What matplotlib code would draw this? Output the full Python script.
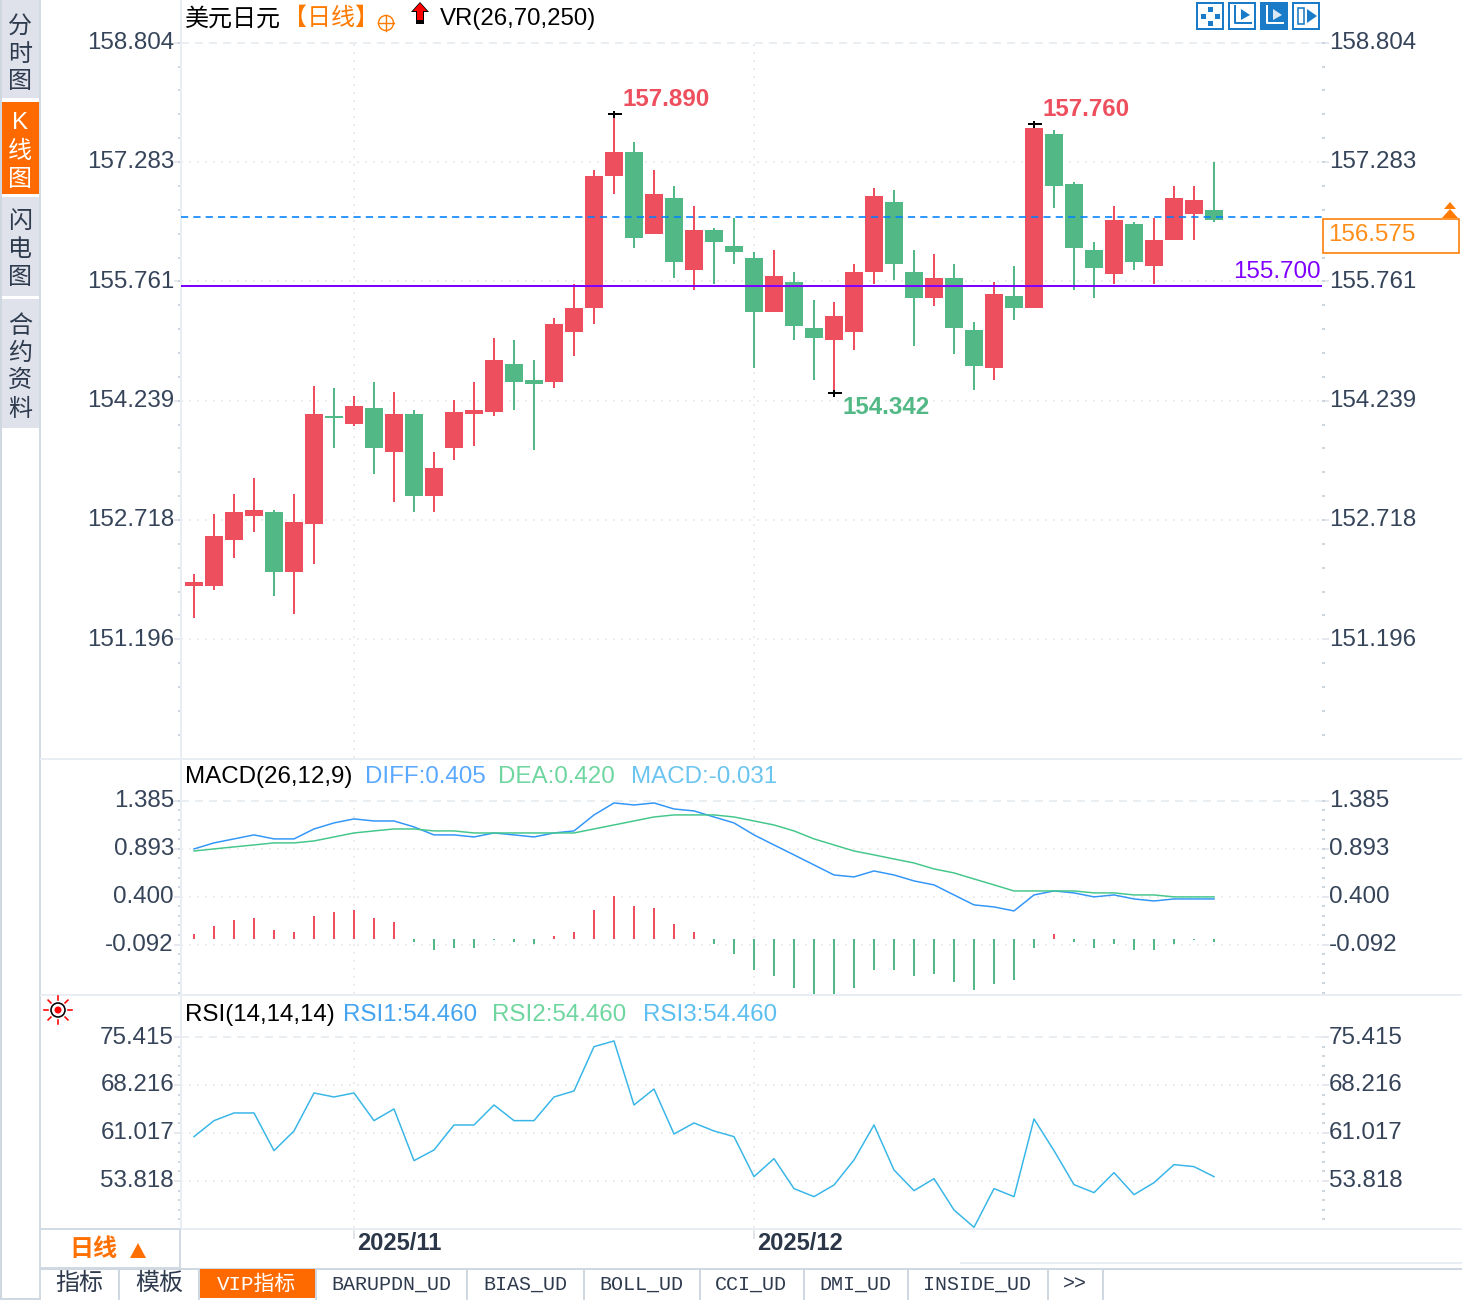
import numpy as np
import matplotlib
matplotlib.use('Agg')
import matplotlib.pyplot as plt
from matplotlib.patches import Rectangle, Circle, Polygon
from matplotlib.transforms import Affine2D

plt.rcParams['font.family'] = ['Liberation Sans', 'Noto Sans CJK SC', 'DejaVu Sans']

W, H = 1462, 1300
PX = 0.72  # one pixel in points at dpi 100

UP = '#ee4f5e'
DOWN = '#52b986'
TEXT = '#36445a'
ORANGE = '#ff7a00'
GRID = '#ececec'

opens = [151.877, 151.877, 152.461, 152.768, 152.821, 152.053, 152.667, 154.046, 153.940, 154.147,
         153.585, 154.068, 153.023, 153.633, 154.068, 154.094, 154.704, 154.502, 154.476, 155.112,
         155.420, 157.101, 157.408, 156.364, 156.820, 155.907, 156.414, 156.210, 156.057, 155.369,
         155.751, 155.165, 155.012, 155.114, 155.879, 156.771, 155.879, 155.547, 155.802, 155.139,
         154.655, 155.573, 155.420, 157.638, 157.000, 156.159, 155.853, 156.490, 155.955, 156.286,
         156.618, 156.669]
closes = [151.925, 152.514, 152.821, 152.843, 152.053, 152.694, 154.068, 154.020, 154.169, 153.633,
          154.068, 153.023, 153.379, 154.094, 154.120, 154.757, 154.476, 154.450, 155.218, 155.420,
          157.101, 157.408, 156.311, 156.873, 156.008, 156.412, 156.261, 156.134, 155.369, 155.828,
          155.190, 155.037, 155.318, 155.879, 156.847, 155.981, 155.547, 155.802, 155.165, 154.680,
          155.598, 155.420, 157.714, 156.975, 156.184, 155.929, 156.541, 156.006, 156.286, 156.822,
          156.796, 156.541]
highs = [152.031, 152.795, 153.049, 153.251, 152.843, 153.049, 154.428, 154.401, 154.296, 154.476,
         154.349, 154.120, 153.585, 154.248, 154.476, 155.038, 155.012, 154.757, 155.292, 155.727,
         157.180, 157.890, 157.536, 157.180, 156.974, 156.719, 156.439, 156.567, 156.134, 156.159,
         155.879, 155.522, 155.496, 155.981, 156.949, 156.924, 156.159, 156.108, 155.981, 155.241,
         155.751, 155.955, 157.760, 157.688, 157.026, 156.261, 156.720, 156.516, 156.567, 156.975,
         156.975, 157.281]
lows = [151.473, 151.825, 152.233, 152.566, 151.750, 151.517, 152.158, 153.633, 153.914, 153.304,
        152.948, 152.821, 152.821, 153.484, 153.660, 154.041, 154.120, 153.611, 154.401, 154.810,
        155.218, 156.873, 156.184, 156.364, 155.802, 155.652, 155.725, 155.981, 154.655, 155.369,
        155.012, 154.502, 154.342, 154.884, 155.725, 155.777, 154.935, 155.445, 154.833, 154.374,
        154.502, 155.267, 155.420, 156.694, 155.649, 155.547, 155.725, 155.904, 155.725, 156.286,
        156.286, 156.516]

diff = [0.890, 0.952, 0.993, 1.034, 0.993, 0.993, 1.095, 1.157, 1.198, 1.177, 1.177, 1.116, 1.034,
        1.034, 1.013, 1.054, 1.034, 1.013, 1.054, 1.075, 1.239, 1.362, 1.341, 1.362, 1.300, 1.280,
        1.218, 1.157, 1.034, 0.931, 0.829, 0.726, 0.623, 0.603, 0.664, 0.623, 0.562, 0.521, 0.418,
        0.316, 0.295, 0.254, 0.418, 0.459, 0.439, 0.398, 0.418, 0.377, 0.356, 0.377, 0.377, 0.377]
dea = [0.869, 0.890, 0.911, 0.931, 0.952, 0.952, 0.972, 1.013, 1.054, 1.075, 1.095, 1.095, 1.075,
       1.075, 1.054, 1.054, 1.054, 1.054, 1.054, 1.054, 1.095, 1.136, 1.177, 1.218, 1.239, 1.239,
       1.239, 1.218, 1.177, 1.136, 1.075, 0.993, 0.931, 0.869, 0.829, 0.787, 0.746, 0.685, 0.644,
       0.582, 0.521, 0.459, 0.459, 0.459, 0.459, 0.439, 0.439, 0.418, 0.418, 0.398, 0.398, 0.398]
macd_hist = [0.051, 0.133, 0.195, 0.215, 0.092, 0.072, 0.236, 0.277, 0.298, 0.215, 0.174, -0.031,
             -0.113, -0.092, -0.092, -0.010, -0.031, -0.051, 0.031, 0.072, 0.298, 0.441, 0.339,
             0.318, 0.154, 0.072, -0.051, -0.154, -0.318, -0.380, -0.503, -0.564, -0.564, -0.503,
             -0.318, -0.318, -0.380, -0.359, -0.441, -0.523, -0.462, -0.421, -0.092, 0.051, -0.031,
             -0.092, -0.051, -0.113, -0.113, -0.051, -0.010, -0.031]
MACD_BASE = -0.034

rsi = [60.47, 62.87, 64.02, 64.02, 58.37, 61.32, 67.02, 66.42, 67.02, 62.87, 64.62, 56.87, 58.47,
       62.22, 62.22, 65.22, 62.87, 62.87, 66.42, 67.32, 73.97, 74.82, 65.22, 67.62, 60.87, 62.52,
       61.32, 60.47, 54.47, 57.17, 52.67, 51.47, 53.22, 56.97, 62.22, 55.47, 52.37, 54.17, 49.47,
       46.87, 52.67, 51.47, 63.12, 58.37, 53.27, 52.07, 55.07, 51.77, 53.57, 56.27, 55.97, 54.47]

price_ticks = [158.804, 157.283, 155.761, 154.239, 152.718, 151.196]
macd_ticks = [1.385, 0.893, 0.400, -0.092]
rsi_ticks = [75.415, 68.216, 61.017, 53.818]
month_pos = [8, 28]
month_labels = ['2025/11', '2025/12']
last_price = 156.575
support_price = 155.700
marked = [(21, 157.890, UP), (42, 157.760, UP), (32, 154.342, DOWN)]

fig = plt.figure(figsize=(W / 100, H / 100), dpi=100)
fig.patch.set_facecolor('white')
xs = np.arange(len(opens))


def make_pane(top, bottom, ticks, fmt, anchor_px, px_per_unit):
    ax = fig.add_axes([181 / W, 1 - bottom / H, (1322 - 181) / W, (bottom - top) / H])
    ax.set_xlim((181 - 194) / 20, (1322 - 194) / 20)
    ax.set_ylim(ticks[0] - (bottom - anchor_px) / px_per_unit, ticks[0] + (anchor_px - top) / px_per_unit)
    for s in ['top', 'right', 'bottom']:
        ax.spines[s].set_visible(False)
    ax.spines['left'].set_color('#e8eef3')
    ax.spines['left'].set_linewidth(2 * PX)
    ax.set_xticks([])
    ax.set_yticks(ticks)
    ax.set_yticklabels([fmt % t for t in ticks])
    step = abs(ticks[0] - ticks[1]) / 5
    minor = np.arange(ticks[-1] - 10 * step, ticks[0] + step / 2, step)
    ax.set_yticks(minor[minor > ax.get_ylim()[0]], minor=True)
    ax.tick_params(axis='y', which='major', length=7 * PX, width=1.5 * PX, color='#dde3ea', pad=0,
                   labelsize=17.4, labelcolor=TEXT, left=True, right=True, labelleft=True, labelright=True)
    ax.tick_params(axis='y', which='minor', length=3 * PX, width=2 * PX, color='#cdd6df', left=True, right=True)
    for t in ax.yaxis.get_major_ticks():
        for lab in (t.label1, t.label2):
            lab.set_transform(lab.get_transform() + Affine2D().translate(0, 2))
    ax.grid(axis='y', which='major', color=GRID, linewidth=2 * PX, linestyle=(0, (1, 3)))
    ax.get_ygridlines()[0].set_linestyle((0, (4, 3)))
    ax.get_ygridlines()[0].set_color('#e8eef2')
    ax.vlines(month_pos, ax.get_ylim()[0], ticks[0], colors=GRID, linewidth=2 * PX, linestyle=(0, (1, 3)), zorder=1)
    ax.set_axisbelow(True)
    return ax


# main candles
ax1 = make_pane(0, 758, price_ticks, '%.3f', 42.5, 78.45)
ax1.axhline(last_price, color='#0080ff', linewidth=1.6 * PX, linestyle=(0, (4.5, 3.2)), zorder=4)
bar_colors = [UP if c >= o else DOWN for o, c in zip(opens, closes)]
ax1.vlines(xs, lows, highs, colors=bar_colors, linewidth=2 * PX, zorder=2)
body_low = np.minimum(opens, closes)
body_h = np.abs(np.array(closes) - np.array(opens))
ax1.bar(xs, body_h, bottom=body_low, width=0.9, color=bar_colors, linewidth=0, zorder=3)
ax1.axhline(support_price, color='#8000ff', linewidth=2 * PX, zorder=5)

for i, val, col in marked:
    ax1.plot([i + 0.05], [val], marker='_', ms=14 * PX, mew=2 * PX, color='black', zorder=6)
    ax1.plot([i], [val], marker='|', ms=7 * PX, mew=2 * PX, color='black', zorder=6)
    dy = 15 if col == UP else -15
    ax1.annotate('%.3f' % val, xy=(i, val), xytext=(9 * PX, dy * PX), textcoords='offset points',
                 color=col, fontsize=17.4, fontweight='bold', ha='left', va='center')

# macd
ax2 = make_pane(760, 994, macd_ticks, '%.3f', 800.7, 97.46)
hist_colors = [UP if v > 0 else DOWN for v in macd_hist]
ax2.vlines(xs, MACD_BASE, MACD_BASE + np.array(macd_hist), colors=hist_colors, linewidth=2 * PX, zorder=2)
ax2.plot(xs, diff, color='#3296f8', linewidth=1.5 * PX, zorder=3)
ax2.plot(xs, dea, color='#45c78c', linewidth=1.5 * PX, zorder=4)

# rsi
ax3 = make_pane(997, 1228, rsi_ticks, '%.3f', 1037, 6.667)
ax3.plot(xs, rsi, color='#38b6e8', linewidth=1.5 * PX, zorder=3)
ax3.set_xticks(month_pos)
ax3.set_xticklabels(month_labels, fontsize=17, fontweight='bold', color='#2b3648', ha='left')
ax3.tick_params(axis='x', length=11 * PX, width=1.5 * PX, color='#d5dde5', pad=-5)
for lab in ax3.get_xticklabels():
    lab.set_transform(lab.get_transform() + Affine2D().translate(3, 0))

# page furniture drawn in pixel coordinates on top
ui = fig.add_axes([0, 0, 1, 1], zorder=5)
ui.set_xlim(0, W)
ui.set_ylim(H, 0)
ui.axis('off')
ui.patch.set_visible(False)


def rect(x0, y0, x1, y1, face='none', edge='none', lw=0.0):
    ui.add_patch(Rectangle((x0, y0), x1 - x0, y1 - y0, facecolor=face, edgecolor=edge, linewidth=lw * PX))


def label(x, y, s, col='black', size=17.3, ha='left', **kw):
    ui.text(x, y, s, color=col, fontsize=size, ha=ha, va='center', **kw)


# side tabs
rect(0, 0, 1.5, H, '#cfd8e1')
rect(38.5, 0, 40.5, H, '#d2dbe3')
side_tabs = [(2, 98, ['分', '时', '图'], [27, 55, 82], '#dfe2ea', '#2e3a4d'),
             (2, 194, ['K', '线', '图'], [123, 152, 180], '#ff6a00', 'white'),
             (2, 296, ['闪', '电', '图'], [222, 250, 278], '#dfe2ea', '#2e3a4d'),
             (2, 428, ['合', '约', '资', '料'], [327, 354, 381, 410], '#dfe2ea', '#2e3a4d')]
tab_tops = [0, 102, 197, 299]
for top, (_, bot, chars, ys, face, col) in zip(tab_tops, side_tabs):
    rect(2, top, 38.5, bot, face)
    for ch, y in zip(chars, ys):
        label(20, y, ch, col, ha='center')

# pane separators
for y in [759, 995, 1229]:
    rect(40, y - 1, W, y + 1, '#e8eef3')
rect(960, 1262, W, 1264, '#e8eef3')

# header
label(185, 19, '美元日元')
label(283, 19, '【日线】', ORANGE)
ui.add_patch(Circle((386, 23), 7.5, facecolor='none', edgecolor=ORANGE, linewidth=1.4 * PX))
ui.plot([378, 394], [23, 23], color=ORANGE, linewidth=1.4 * PX)
ui.plot([386, 386], [15, 31], color=ORANGE, linewidth=1.4 * PX)
ui.add_patch(Polygon([(420, 2), (429, 12), (424, 12), (424, 24), (416, 24), (416, 12), (411, 12)],
                     facecolor='black', edgecolor='none'))
ui.add_patch(Polygon([(420, 3), (427, 11), (423, 11), (423, 20), (417, 20), (417, 11), (413, 11)],
                     facecolor='#ff0000', edgecolor='none'))
label(440, 19, 'VR(26,70,250)')

# toolbar icons
icon_blue = '#1a7cc8'
for i, x0 in enumerate([1197, 1229, 1261, 1293]):
    rect(x0, 3, x0 + 26, 29, icon_blue if i == 2 else 'white', icon_blue, 2)
    col = 'white' if i == 2 else icon_blue
    if i == 0:
        for dx, dy in [(-7, 0), (7, 0), (0, -7), (0, 7)]:
            rect(x0 + 13 + dx - 2.5, 16 + dy - 2.5, x0 + 13 + dx + 2.5, 16 + dy + 2.5, col)
    elif i in (1, 2):
        ui.plot([x0 + 6, x0 + 6, x0 + 22], [6, 23, 23], color=col, linewidth=2 * PX)
        ui.add_patch(Polygon([(x0 + 12, 9), (x0 + 12, 20), (x0 + 21, 15)], facecolor='#dbe9f6' if i == 2 else col))
    else:
        rect(x0 + 5, 8, x0 + 11, 24, 'none', col, 1.6)
        ui.add_patch(Polygon([(x0 + 14, 9), (x0 + 14, 23), (x0 + 24, 16)], facecolor=col))

# right price box
label(1233, 272, '%.3f' % support_price, '#8000ff', size=17.4)
rect(1323, 219, 1459, 253, 'white', ORANGE, 1.6)
label(1328, 235, '%.3f' % last_price, '#ff8f1a', size=17.4)
ui.add_patch(Polygon([(1450, 202), (1456, 209), (1444, 209)], facecolor=ORANGE))
ui.add_patch(Polygon([(1450, 209), (1458, 218), (1442, 218)], facecolor=ORANGE))

# indicator captions
label(185, 777, 'MACD(26,12,9)', size=17.4)
label(365, 777, 'DIFF:0.405', '#5aa9ff', size=17.4)
label(498, 777, 'DEA:0.420', '#6fd6a0', size=17.4)
label(631, 777, 'MACD:-0.031', '#6cc5f0', size=17.4)
label(185, 1015, 'RSI(14,14,14)', size=17.4)
label(343, 1015, 'RSI1:54.460', '#44a4f0', size=17.4)
label(492, 1015, 'RSI2:54.460', '#6fd6a0', size=17.4)
label(643, 1015, 'RSI3:54.460', '#5cbff0', size=17.4)

# sun icon
ui.add_patch(Circle((58, 1010), 7, facecolor='white', edgecolor='black', linewidth=1.6 * PX))
ui.add_patch(Circle((58, 1010), 3.5, facecolor='#ff0000', edgecolor='none'))
for a in np.deg2rad(np.arange(0, 360, 45)):
    ui.plot([58 + 10 * np.cos(a), 58 + 14 * np.cos(a)], [1010 + 10 * np.sin(a), 1010 + 14 * np.sin(a)],
            color='#ff0000', linewidth=1.6 * PX)

# bottom bar
rect(40, 1229, 180, 1268, 'white', '#d2dbe3', 2)
label(93, 1250, '日线', '#ff7000', ha='center', fontweight='bold')
ui.add_patch(Polygon([(138, 1243), (146, 1258), (130, 1258)], facecolor='#ff7000'))
rect(40, 1268, W, 1270, '#cfd8e1')
rect(0, 1298, 40, 1300, '#cfd8e1')
rect(200, 1269, 315, 1298, '#ff6a00')
for x in [118, 198, 315, 466, 583, 699, 803, 907, 1047, 1102]:
    rect(x, 1269, x + 1.5, H, '#cfd8e1')
MONO = ['Liberation Mono', 'Noto Sans CJK SC']
label(79, 1284, '指标', '#2e3a4d', ha='center')
label(159, 1284, '模板', '#2e3a4d', ha='center')
label(257, 1284, 'VIP指标', 'white', size=15, ha='center', family=MONO)
tabs = [(391, 'BARUPDN_UD'), (525, 'BIAS_UD'), (641, 'BOLL_UD'), (751, 'CCI_UD'), (855, 'DMI_UD'),
        (977, 'INSIDE_UD'), (1075, '>>')]
for x, s in tabs:
    label(x, 1284, s, '#2e3a4d', size=14.4, ha='center', family=MONO)

fig.savefig('out.png', dpi=100)
